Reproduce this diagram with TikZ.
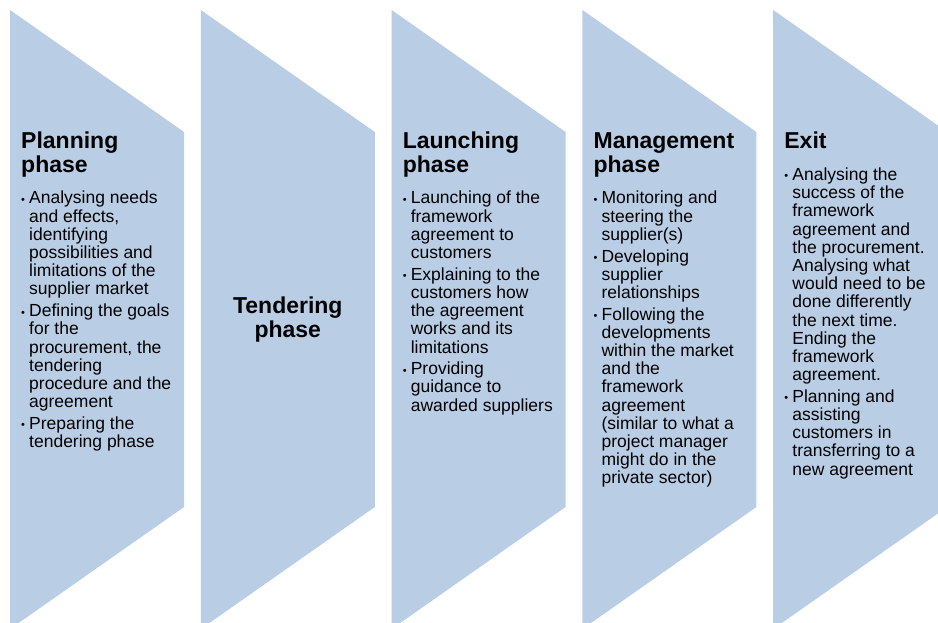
\documentclass[tikz,border=0pt]{standalone}
\usepackage{fontspec}
\setmainfont{Liberation Sans}
\definecolor{chev}{HTML}{B9CDE5}
\newcommand\bodyfont{\fontsize{17.5}{18.2}\selectfont}
\newcommand\headfont{\fontsize{23}{24}\selectfont\bfseries}
\newcommand\bitem[1]{\par\noindent\hangindent=8pt\hangafter=1\makebox[8pt][l]{\fontsize{11}{11}\selectfont\raisebox{0.6pt}{•}}\ignorespaces#1\par}
\newenvironment{blist}{\begin{minipage}[t]{170pt}\bodyfont\parskip=3.5pt\parindent=0pt\raggedright}{\end{minipage}}
\tikzset{
  chevshape/.style={fill=chev, draw=none},
  headtxt/.style={anchor=base west, inner sep=0pt, align=left, font=\headfont},
  bodytxt/.style={anchor=base west, inner sep=0pt}
}
\begin{document}
\begin{tikzpicture}[x=1pt,y=-1pt]
\useasboundingbox (0,0) rectangle (938,623);
\clip (0,0) rectangle (938,623);
\foreach \L in {10,200.8,391.6,582.4,773.2}{
  \fill[chevshape] (\L,10) -- (\L+174,132) -- (\L+174,507) -- (\L,629) -- cycle;
}
% Planning
\node[headtxt] (t1) at (21,173) {Planning\\phase};
\node[bodytxt] (b1) at (21,204) {\begin{blist}
\bitem{Analysing needs\newline and effects,\newline identifying\newline possibilities and\newline limitations of the\newline supplier market}
\bitem{Defining the goals\newline for the\newline procurement, the\newline tendering\newline procedure and the\newline agreement}
\bitem{Preparing the\newline tendering phase}
\end{blist}};
% Tendering
\node[font=\headfont, align=center, anchor=base, inner sep=0pt] (t2) at (287.8,337) {Tendering\\phase};
% Launching
\node[headtxt] (t3) at (402.6,173) {Launching\\phase};
\node[bodytxt] (b3) at (402.6,204) {\begin{blist}
\bitem{Launching of the\newline framework\newline agreement to\newline customers}
\bitem{Explaining to the\newline customers how\newline the agreement\newline works and its\newline limitations}
\bitem{Providing\newline guidance to\newline awarded suppliers}
\end{blist}};
% Management
\node[headtxt] (t4) at (593.4,173) {Management\\phase};
\node[bodytxt] (b4) at (593.4,204) {\begin{blist}
\bitem{Monitoring and\newline steering the\newline supplier(s)}
\bitem{Developing\newline supplier\newline relationships}
\bitem{Following the\newline developments\newline within the market\newline and the\newline framework\newline agreement\newline (similar to what a\newline project manager\newline might do in the\newline private sector)}
\end{blist}};
% Exit
\node[headtxt] (t5) at (784.2,149) {Exit};
\node[bodytxt] (b5) at (784.2,180.5) {\begin{blist}
\bitem{Analysing the\newline success of the\newline framework\newline agreement and\newline the procurement.\newline Analysing what\newline would need to be\newline done differently\newline the next time.\newline Ending the\newline framework\newline agreement.}
\bitem{Planning and\newline assisting\newline customers in\newline transferring to a\newline new agreement}
\end{blist}};
\end{tikzpicture}
\end{document}
